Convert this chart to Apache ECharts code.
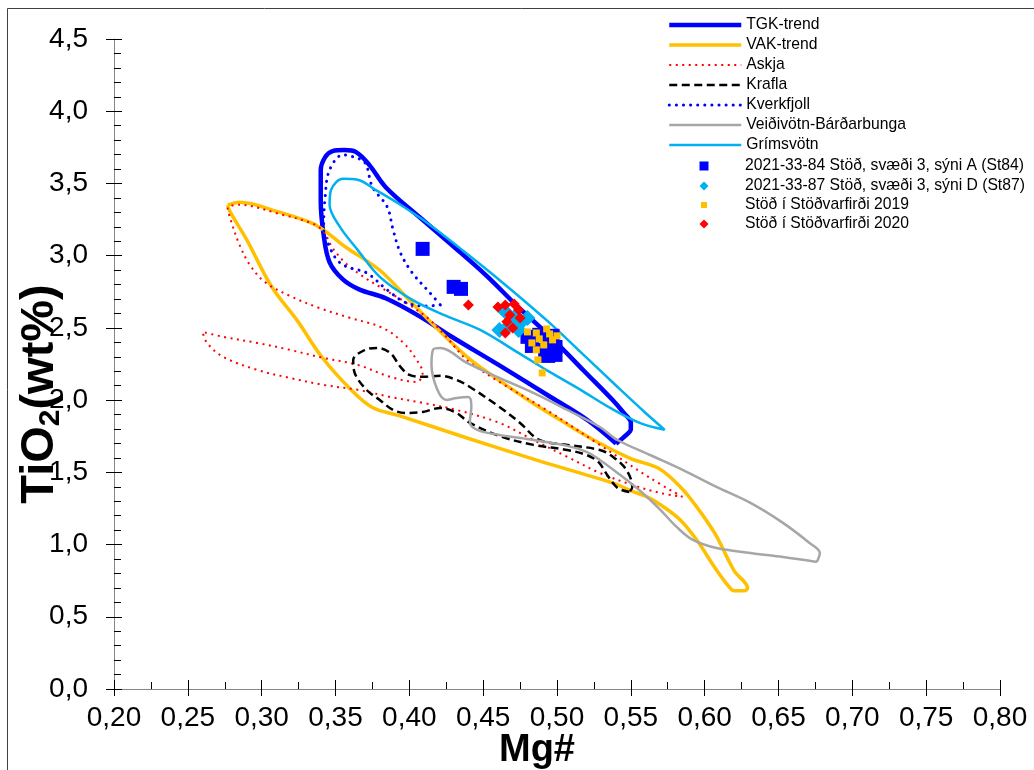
<!DOCTYPE html>
<html><head><meta charset="utf-8">
<script src="https://cdn.jsdelivr.net/npm/echarts@6/dist/echarts.min.js"></script>
<style>html,body{margin:0;padding:0;background:#fff}#c{width:1034px;height:770px}</style>
</head><body><div id="c"></div>
<script>
// ---- tick labels ----
const xTickLabels = ['0,20','0,25','0,30','0,35','0,40','0,45','0,50','0,55','0,60','0,65','0,70','0,75','0,80'];
const yTickLabels = ['0,0','0,5','1,0','1,5','2,0','2,5','3,0','3,5','4,0','4,5'];

// ---- outline fields [Mg#, TiO2] ----
const tgkTrend = [[0.540,1.699],[0.521,1.859],[0.494,2.032],[0.461,2.240],[0.427,2.449],[0.407,2.580],[0.384,2.705],[0.366,2.767],[0.355,2.836],[0.346,2.954],[0.342,3.141],[0.340,3.384],[0.340,3.592],[0.343,3.682],[0.348,3.724],[0.356,3.731],[0.364,3.717],[0.373,3.627],[0.384,3.474],[0.407,3.266],[0.429,3.072],[0.452,2.864],[0.474,2.642],[0.496,2.435],[0.518,2.205],[0.538,1.997],[0.545,1.914],[0.550,1.845],[0.550,1.800],[0.546,1.750],[0.540,1.699]];
const vakTrend = [[0.277,3.350],[0.285,3.370],[0.312,3.301],[0.334,3.225],[0.344,3.162],[0.357,3.058],[0.380,2.899],[0.402,2.670],[0.425,2.434],[0.442,2.275],[0.461,2.136],[0.483,1.983],[0.506,1.838],[0.528,1.706],[0.550,1.595],[0.569,1.526],[0.584,1.394],[0.593,1.283],[0.607,1.075],[0.620,0.818],[0.629,0.700],[0.627,0.680],[0.620,0.680],[0.616,0.714],[0.607,0.839],[0.595,1.026],[0.584,1.165],[0.573,1.255],[0.562,1.325],[0.550,1.373],[0.539,1.422],[0.517,1.491],[0.494,1.560],[0.483,1.595],[0.438,1.741],[0.393,1.893],[0.375,1.949],[0.361,2.067],[0.341,2.295],[0.324,2.552],[0.307,2.781],[0.290,3.107],[0.278,3.315],[0.277,3.350]];
const askja = [[0.585,1.330],[0.563,1.461],[0.529,1.690],[0.495,1.918],[0.461,2.126],[0.439,2.278],[0.425,2.438],[0.414,2.555],[0.398,2.673],[0.380,2.784],[0.367,2.867],[0.356,2.957],[0.348,3.054],[0.342,3.165],[0.335,3.220],[0.312,3.289],[0.285,3.352],[0.277,3.331],[0.279,3.248],[0.285,3.075],[0.292,2.936],[0.302,2.819],[0.319,2.722],[0.339,2.638],[0.360,2.569],[0.382,2.500],[0.396,2.396],[0.405,2.278],[0.409,2.188],[0.405,2.126],[0.387,2.161],[0.365,2.244],[0.342,2.292],[0.319,2.348],[0.297,2.396],[0.274,2.438],[0.260,2.472],[0.263,2.396],[0.274,2.299],[0.297,2.209],[0.319,2.154],[0.342,2.105],[0.365,2.071],[0.387,2.022],[0.409,1.981],[0.432,1.932],[0.461,1.842],[0.484,1.724],[0.507,1.607],[0.529,1.496],[0.551,1.413],[0.570,1.357],[0.585,1.330]];
const krafla = [[0.549,1.364],[0.541,1.392],[0.534,1.482],[0.528,1.572],[0.520,1.620],[0.507,1.655],[0.484,1.690],[0.461,1.752],[0.441,1.842],[0.432,1.911],[0.421,1.946],[0.409,1.918],[0.398,1.911],[0.389,1.932],[0.380,2.001],[0.371,2.071],[0.363,2.188],[0.362,2.278],[0.370,2.348],[0.378,2.361],[0.387,2.327],[0.394,2.230],[0.400,2.175],[0.409,2.161],[0.421,2.168],[0.432,2.140],[0.441,2.091],[0.461,1.953],[0.475,1.842],[0.488,1.724],[0.507,1.690],[0.529,1.655],[0.538,1.607],[0.547,1.517],[0.551,1.399],[0.549,1.364]];
const kverkfjoll = [[0.421,2.659],[0.412,2.652],[0.398,2.673],[0.385,2.763],[0.371,2.881],[0.358,2.922],[0.351,2.971],[0.346,3.061],[0.342,3.179],[0.343,3.407],[0.346,3.594],[0.355,3.698],[0.362,3.684],[0.370,3.643],[0.375,3.476],[0.385,3.338],[0.389,3.179],[0.394,3.019],[0.402,2.881],[0.414,2.742],[0.421,2.659]];
const veidivotn = [[0.676,0.880],[0.653,0.914],[0.631,0.942],[0.608,0.976],[0.592,1.032],[0.581,1.122],[0.570,1.240],[0.558,1.357],[0.541,1.496],[0.529,1.586],[0.520,1.641],[0.507,1.683],[0.484,1.724],[0.461,1.759],[0.446,1.794],[0.441,1.849],[0.442,1.953],[0.440,2.022],[0.432,2.015],[0.425,2.001],[0.419,2.071],[0.415,2.244],[0.416,2.348],[0.421,2.361],[0.439,2.258],[0.461,2.154],[0.484,2.050],[0.507,1.932],[0.529,1.814],[0.541,1.724],[0.563,1.620],[0.585,1.517],[0.608,1.399],[0.631,1.288],[0.653,1.150],[0.671,1.011],[0.678,0.942],[0.676,0.880]];
const grimsvotn = [[0.573,1.794],[0.556,1.842],[0.536,1.946],[0.516,2.071],[0.495,2.195],[0.475,2.320],[0.448,2.486],[0.425,2.583],[0.402,2.694],[0.380,2.853],[0.365,3.040],[0.353,3.199],[0.346,3.352],[0.347,3.456],[0.355,3.532],[0.365,3.525],[0.377,3.456],[0.394,3.352],[0.414,3.213],[0.434,3.054],[0.461,2.832],[0.495,2.535],[0.518,2.313],[0.541,2.091],[0.560,1.911],[0.573,1.794]];

// ---- samples [Mg#, TiO2] ----
const st84 = [[0.409,3.047],[0.430,2.784],[0.435,2.770],[0.480,2.438],[0.488,2.452],[0.497,2.445],[0.499,2.368],[0.492,2.348],[0.483,2.375],[0.494,2.306],[0.499,2.313]];
const st87 = [[0.465,2.611],[0.472,2.583],[0.476,2.542],[0.468,2.521],[0.461,2.486],[0.474,2.486],[0.480,2.569]];
const stod2019 = [[0.480,2.472],[0.486,2.465],[0.493,2.493],[0.495,2.458],[0.488,2.424],[0.483,2.396],[0.491,2.382],[0.497,2.417],[0.500,2.445],[0.486,2.348],[0.487,2.278],[0.490,2.188]];
const stod2020 = [[0.440,2.659],[0.460,2.645],[0.465,2.659],[0.471,2.666],[0.474,2.625],[0.468,2.590],[0.475,2.569],[0.466,2.542],[0.470,2.500],[0.465,2.465]];

const lineNames = ['TGK-trend','VAK-trend','Askja','Krafla','Kverkfjoll','Veiðivötn-Bárðarbunga','Grímsvötn'];
const sampleNames = ['2021-33-84 Stöð, svæði 3, sýni A (St84)','2021-33-87 Stöð, svæði 3, sýni D (St87)','Stöð í Stöðvarfirði 2019','Stöð í Stöðvarfirði 2020'];

const FONT = '"Liberation Sans", Arial, sans-serif';
function outline(name, data, color, width, type, cap) {
  return {name: name, type: 'line', data: data, smooth: 0.35, symbol: 'none', clip: false,
    lineStyle: {color: color, width: width, type: type || 'solid', cap: cap || 'butt', join: 'round'},
    itemStyle: {color: color}, emphasis: {disabled: true}};
}
function samples(name, data, symbol, size, color) {
  return {name: name, type: 'scatter', data: data, symbol: symbol, symbolSize: size,
    itemStyle: {color: color, opacity: 1}, emphasis: {disabled: true}, z: 5};
}
function legendText(padLeft) {
  return {fontSize: 15.7, lineHeight: 20, fontFamily: FONT, color: '#000', padding: [0, 0, 0, padLeft]};
}
const legendBase = {orient: 'vertical', itemGap: 0, padding: 0, selectedMode: false};
// sample legend icons are centred at x = 704 and their text starts at x = 745
function sampleLegend(names, top, size) {
  const left = 704 - size / 2;
  return Object.assign({}, legendBase, {data: names, top: top, left: left, itemWidth: size, itemHeight: size,
    textStyle: legendText(745 - (left + size + 5))});
}

const chart = echarts.init(document.getElementById('c'), null, {renderer: 'canvas'});
chart.setOption({
  animation: false,
  backgroundColor: '#fff',
  grid: {left: 114, right: 34, top: 39, bottom: 81, containLabel: false, outerBoundsMode: 'none'},
  graphic: [{type: 'rect', shape: {x: 7.5, y: 8.5, width: 1200, height: 1000}, style: {fill: 'none', stroke: '#404040', lineWidth: 1}, silent: true, z: -1}],
  legend: [
    Object.assign({}, legendBase, {data: lineNames, top: 15, left: 667, itemWidth: 72, itemHeight: 14,
      itemStyle: {opacity: 0}, lineStyle: {width: 'inherit'}, textStyle: legendText(0)}),
    sampleLegend(sampleNames.slice(0, 2), 156, 9),
    sampleLegend([sampleNames[2]], 195, 6),
    sampleLegend([sampleNames[3]], 214, 9)
  ],
  xAxis: [{
    type: 'value', min: 0.2, max: 0.8, interval: 0.05, position: 'bottom',
    axisLine: {show: true, onZero: false, lineStyle: {color: '#868686', width: 1}},
    axisTick: {show: true, inside: false, length: 7, lineStyle: {color: '#000'}},
    axisLabel: {fontSize: 28, fontFamily: FONT, color: '#000', margin: 15,
      formatter: function (v) { return xTickLabels[Math.round((v - 0.2) / 0.05)]; }},
    splitLine: {show: false},
    name: 'Mg#', nameLocation: 'middle', nameGap: 43, nameMoveOverlap: false,
    nameTextStyle: {fontSize: 38, fontWeight: 'bold', fontFamily: FONT, color: '#000', padding: [0, 40, 0, 0]}
  }, {
    type: 'value', min: 0.2, max: 0.8, interval: 0.05, position: 'bottom',
    axisLine: {show: false, onZero: false},
    axisTick: {show: true, inside: true, length: 9, lineStyle: {color: '#000'}},
    minorTick: {show: true, splitNumber: 2, length: 7, lineStyle: {color: '#000'}},
    axisLabel: {show: false}, splitLine: {show: false}
  }],
  yAxis: [{
    type: 'value', min: 0, max: 4.5, interval: 0.5, position: 'left',
    axisLine: {show: true, onZero: false, lineStyle: {color: '#868686', width: 1}},
    axisTick: {show: true, inside: false, length: 8, lineStyle: {color: '#000'}},
    axisLabel: {fontSize: 28, fontFamily: FONT, color: '#000', margin: 26,
      formatter: function (v) { return yTickLabels[Math.round(v / 0.5)]; }},
    splitLine: {show: false},
    name: '{a|TiO}{b|2}{a|(wt%)}', nameLocation: 'middle', nameGap: 48, nameRotate: 90, nameMoveOverlap: false,
    nameTextStyle: {padding: [0, 60, 0, 0], rich: {
      a: {fontSize: 47, fontWeight: 'bold', fontFamily: FONT, color: '#000', lineHeight: 52},
      b: {fontSize: 30, fontWeight: 'bold', fontFamily: FONT, color: '#000', lineHeight: 22, verticalAlign: 'bottom'}
    }}
  }, {
    type: 'value', min: 0, max: 4.5, interval: 0.5, position: 'left',
    axisLine: {show: false, onZero: false},
    axisTick: {show: true, inside: true, length: 8, lineStyle: {color: '#000'}},
    minorTick: {show: true, splitNumber: 5, length: 7, lineStyle: {color: '#000'}},
    axisLabel: {show: false}, splitLine: {show: false}
  }],
  series: [
    outline(lineNames[0], tgkTrend, '#0000FF', 4.5),
    outline(lineNames[1], vakTrend, '#FFC000', 3.5),
    outline(lineNames[2], askja, '#FF0000', 2, [2, 4.5]),
    outline(lineNames[3], krafla, '#000000', 2.5, [8, 4.5]),
    outline(lineNames[4], kverkfjoll, '#0000FF', 3, [0.1, 7], 'round'),
    outline(lineNames[5], veidivotn, '#A6A6A6', 2.5),
    outline(lineNames[6], grimsvotn, '#00B0F0', 2.5),
    samples(sampleNames[0], st84, 'rect', 14, '#0000FF'),
    samples(sampleNames[1], st87, 'diamond', 16, '#00B0F0'),
    samples(sampleNames[2], stod2019, 'rect', 7, '#FFC000'),
    samples(sampleNames[3], stod2020, 'diamond', 11, '#FF0000')
  ]
});
</script></body></html>
